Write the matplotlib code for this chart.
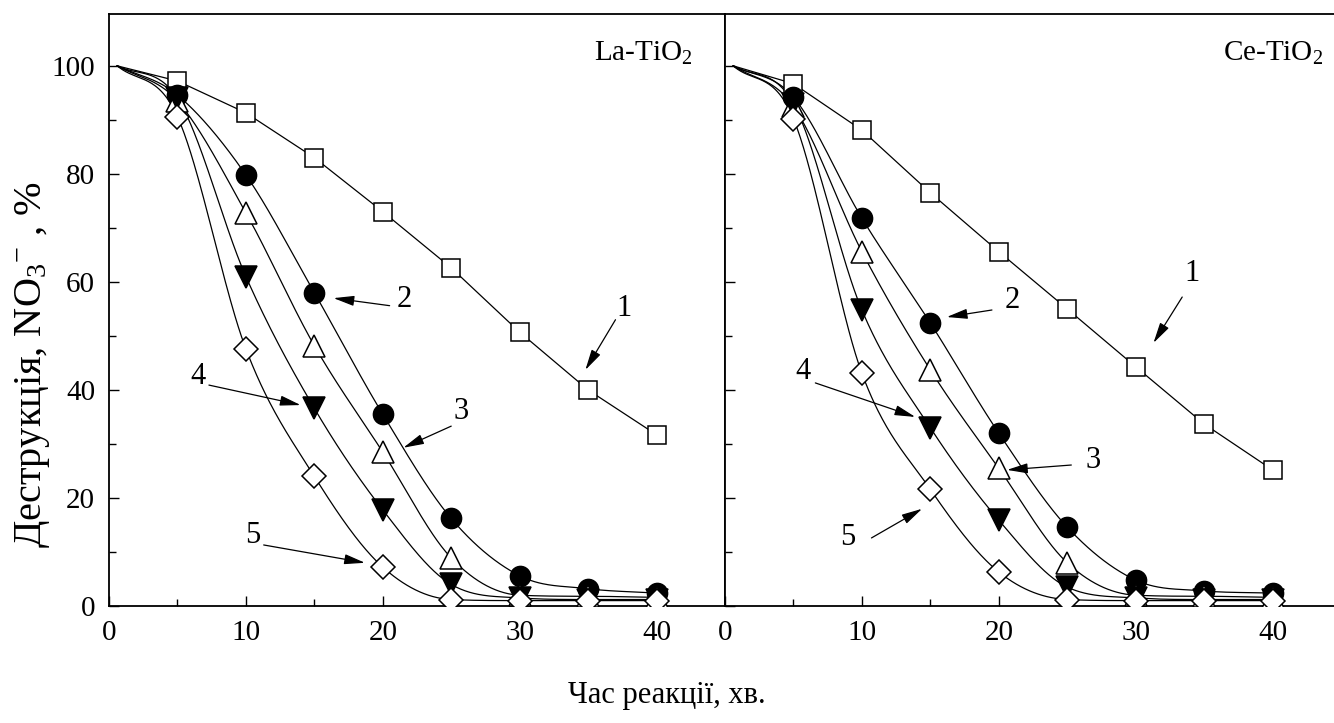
import numpy as np
import matplotlib
matplotlib.use("Agg")
import matplotlib.pyplot as plt

plt.rcParams['font.family'] = ['Liberation Serif', 'DejaVu Serif']
plt.rcParams['mathtext.fontset'] = 'custom'
plt.rcParams['mathtext.rm'] = 'Liberation Serif'
plt.rcParams['mathtext.it'] = 'Liberation Serif:italic'

# ---------------- data ----------------
time_min = [0.6, 5, 10, 15, 20, 25, 30, 35, 40]

la_1 = [100, 97.2, 91.3, 83.0, 73.0, 62.6, 50.7, 40.0, 31.7]
la_2 = [100, 94.6, 79.8, 58.0, 35.5, 16.2, 5.6, 3.2, 2.4]
la_3 = [100, 93.5, 72.8, 48.2, 28.5, 8.9, 2.0, 1.8, 1.6]
la_4 = [100, 94.0, 61.0, 36.6, 17.8, 4.0, 1.5, 1.2, 1.2]
la_5 = [100, 90.6, 47.6, 24.0, 7.2, 1.2, 1.0, 1.0, 1.0]

ce_1 = [100, 96.7, 88.1, 76.5, 65.6, 55.0, 44.3, 33.7, 25.2]
ce_2 = [100, 94.2, 71.8, 52.4, 32.0, 14.6, 4.8, 2.8, 2.4]
ce_3 = [100, 92.5, 65.6, 43.7, 25.5, 8.0, 2.0, 1.8, 1.6]
ce_4 = [100, 93.0, 54.8, 33.0, 15.9, 3.5, 1.5, 1.2, 1.2]
ce_5 = [100, 90.2, 43.1, 21.6, 6.3, 1.2, 1.0, 1.0, 1.0]

panel_titles = ["La-TiO$_2$", "Ce-TiO$_2$"]
curve_labels = ["1", "2", "3", "4", "5"]

# annotations: (text position, arrow tail, arrow head) in data units
la_notes = [((37.6, 55.0), (37.0, 53.0), (34.8, 43.7)),
            ((21.6, 56.7), (20.5, 55.6), (16.4, 57.0)),
            ((25.7, 36.0), (25.0, 33.3), (21.5, 29.3)),
            ((6.5, 42.4), (7.3, 40.9), (14.0, 37.2)),
            ((10.5, 13.0), (11.3, 11.3), (18.7, 8.0))]
ce_notes = [((34.1, 61.5), (33.4, 57.2), (31.3, 48.7)),
            ((21.0, 56.5), (19.5, 54.8), (16.2, 53.5)),
            ((26.9, 27.0), (25.3, 26.1), (20.6, 25.2)),
            ((5.7, 43.5), (6.6, 41.3), (13.9, 35.0)),
            ((9.0, 12.6), (10.7, 12.6), (14.4, 18.0))]


def smooth_line(x, y, xs):
    """Monotone cubic Hermite curve (Catmull-Rom tangents, Fritsch-Carlson limited)."""
    x = np.asarray(x, float); y = np.asarray(y, float)
    h = np.diff(x); d = np.diff(y) / h
    n = len(x)
    m = np.empty(n)
    m[0] = d[0]; m[-1] = d[-1]
    for k in range(1, n - 1):
        m[k] = (y[k + 1] - y[k - 1]) / (x[k + 1] - x[k - 1])
        if d[k - 1] * d[k] <= 0:
            m[k] = 0.0
    for k in range(n - 1):
        if d[k] == 0:
            m[k] = m[k + 1] = 0.0
            continue
        a = m[k] / d[k]; b = m[k + 1] / d[k]
        s = a * a + b * b
        if s > 9:
            t = 3 / np.sqrt(s)
            m[k] = t * a * d[k]; m[k + 1] = t * b * d[k]
    idx = np.clip(np.searchsorted(x, xs) - 1, 0, n - 2)
    t = (xs - x[idx]) / h[idx]
    h00 = 2*t**3 - 3*t**2 + 1; h10 = t**3 - 2*t**2 + t
    h01 = -2*t**3 + 3*t**2; h11 = t**3 - t**2
    return h00*y[idx] + h10*h[idx]*m[idx] + h01*y[idx+1] + h11*h[idx]*m[idx+1]


W, H = 1334, 723
fig = plt.figure(figsize=(W / 100, H / 100), dpi=100)
ax_w = 616 / W
ax_h = (606 - 14) / H
ax_b = 1 - 606 / H
axL = fig.add_axes([109 / W, ax_b, ax_w, ax_h])
axR = fig.add_axes([725 / W, ax_b, ax_w, ax_h])

styles = [dict(marker='s', mfc='white', mec='black', ms=13.5),
          dict(marker='o', mfc='black', mec='black', ms=14.5),
          dict(marker='^', mfc='white', mec='black', ms=15.5),
          dict(marker='v', mfc='black', mec='black', ms=15.5),
          dict(marker='D', mfc='white', mec='black', ms=12.5)]

for ax, series, notes, title, tx in [
        (axL, [la_1, la_2, la_3, la_4, la_5], la_notes, panel_titles[0], 0.948),
        (axR, [ce_1, ce_2, ce_3, ce_4, ce_5], ce_notes, panel_titles[1], 0.971)]:
    xs = np.linspace(time_min[0], time_min[-1], 500)
    order = [0, 4, 3, 2, 1]
    for i in order:
        vals = series[i]
        if i == 0:
            ax.plot(time_min, vals, color='black', lw=0.9, zorder=2)
        else:
            ax.plot(xs, smooth_line(time_min, vals, xs), color='black', lw=0.9,
                    zorder=2)
        ax.plot(time_min[1:], vals[1:], ls='none', mew=1.1, zorder=3 + i * 0.1,
                **styles[i])
    for lab, tp, tail, head in zip(curve_labels, *zip(*notes)):
        ax.text(tp[0], tp[1], lab, fontsize=22, ha='center', va='center', zorder=5)
        ax.annotate('', xy=head, xytext=tail,
                    arrowprops=dict(arrowstyle='-|>,head_length=0.9,head_width=0.22',
                                    mutation_scale=14, color='black', lw=0.9,
                                    shrinkA=0, shrinkB=0),
                    zorder=5)
    ax.set_xlim(0, 45)
    ax.set_ylim(0, 109.6)
    ax.set_xticks([0, 10, 20, 30, 40])
    ax.set_xticks([5, 15, 25, 35], minor=True)
    ax.set_yticks([0, 20, 40, 60, 80, 100])
    ax.set_yticks([10, 30, 50, 70, 90], minor=True)
    ax.tick_params(which='both', direction='in', top=False, right=False,
                   labelsize=21, pad=10)
    ax.tick_params(which='major', length=7, width=1.0)
    ax.tick_params(which='minor', length=5, width=1.0)
    for sp in ax.spines.values():
        sp.set_linewidth(1.3)
    ax.text(tx, 0.921, title, transform=ax.transAxes, fontsize=21,
            ha='right', va='baseline')

axR.tick_params(axis='y', labelleft=False)
axR.spines['right'].set_visible(False)

fig.text(33 / W, 1 - 365 / H, "Деструкція, NO$_3$$^{-}$ , %", rotation=90,
         fontsize=29, ha='center', va='center')
fig.text(667 / W, 1 - 695 / H, "Час реакції, хв.", fontsize=22,
         ha='center', va='center')

fig.savefig("out.png", dpi=100)
